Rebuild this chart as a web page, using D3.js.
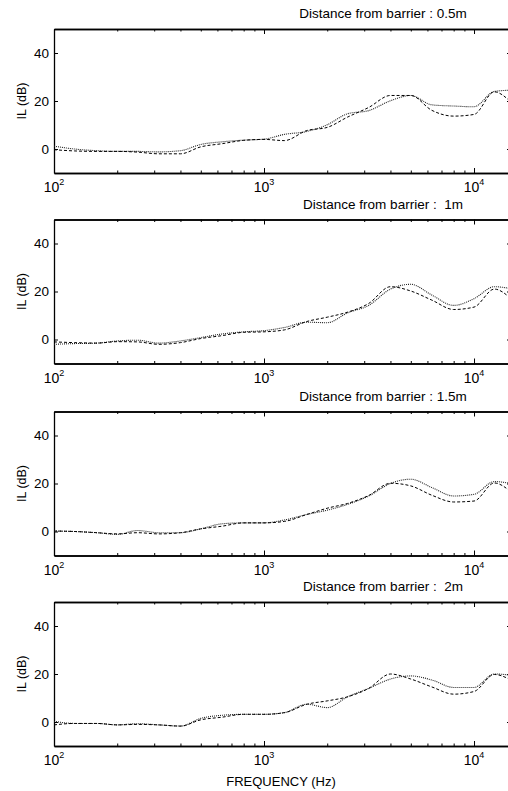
<!DOCTYPE html>
<html><head><meta charset="utf-8">
<script src="https://cdn.jsdelivr.net/npm/d3@7"></script>
<style>
html,body{margin:0;padding:0;background:#fff;}
svg{display:block;}
text{font-family:"Liberation Sans",Arial,sans-serif;fill:#000;}
</style></head>
<body>
<svg id="chart" width="508" height="791"></svg>
<script>
// ---- data ----
const freq = [100,125,160,200,250,315,400,500,630,800,1000,1250,1600,2000,2500,3150,4000,5000,6300,8000,10000,12500,15000];
const titles = ["Distance from barrier : 0.5m","Distance from barrier :  1m","Distance from barrier : 1.5m","Distance from barrier :  2m"];
const dotted05 = [1.2,0,-0.7,-1,-1,-1.2,-0.7,1.9,3,3.7,4.1,6.1,7.3,10.1,14.7,16,20.1,22.3,18.4,17.9,17.6,24,24.5];
const dashed05 = [-0.3,-0.8,-1,-1,-1.3,-2,-2,0.9,2.2,3.6,4,3.5,7.7,9,13.3,17.3,22.3,22.3,16.1,13.7,14.4,23.8,19.5];
const dotted1  = [-2,-1.7,-1.5,-0.6,-0.3,-1.5,-0.6,0.8,2.3,3.2,3.7,5,7.2,7,11.1,14.2,21,23,18.5,14.2,17,22,21.2];
const dashed1  = [-1,-1.3,-1.5,-0.9,-1,-2,-1.3,0.4,1.6,3,3.2,4,7.5,9.3,11.4,15,22,20.2,16.4,12.5,13.5,21,17];
const dotted15 = [0.2,0,-0.5,-1.2,0.4,-0.5,-0.5,1.1,3.2,3.6,3.6,4.8,7.1,8.9,11.3,14.8,20,21.8,18.3,14.8,15.5,20.8,20];
const dashed15 = [0.2,0,-0.5,-1,-0.5,-1,-0.5,1.1,2.2,3.6,3.6,4.2,7.1,9.7,11.7,15,20.1,19,15.1,12.3,12.7,20.2,16.5];
const dotted2  = [0.3,-0.6,-0.6,-1.2,-0.7,-1.2,-1.7,1.5,2.8,3.2,3.2,3.9,7.4,6,10.5,14,17.9,19.2,17.5,14.4,14.4,20,19.5];
const dashed2  = [-1.2,-0.6,-0.6,-1.2,-1,-1.2,-1.7,0.9,2,3.2,3.2,3.9,7.4,8.8,10.5,14,20,17.9,14.6,11.6,12.7,19.8,17.5];
const majorTicks = [100,1000,10000];
const exponents = ["2","3","4"];
const yTicks = [0,20,40];
const yTickLabels = ["0","20","40"];
const xLabel = "FREQUENCY (Hz)";
const yLabel = "IL (dB)";

const panels = [
  {title:titles[0], a:dotted05, b:dashed05},
  {title:titles[1], a:dotted1,  b:dashed1},
  {title:titles[2], a:dotted15, b:dashed15},
  {title:titles[3], a:dotted2,  b:dashed2}
];

// ---- layout ----
const svg = d3.select("#chart");
const left = 54, right = 511, ph = 144;
const tops = [29, 219.5, 411.5, 602];

const x = d3.scaleLog().domain([100,15000]).range([left,right]);
const minorTicks = [];
[100,1000,10000].forEach(d=>{for(let k=2;k<=9;k++){ if(d*k<=15000) minorTicks.push(d*k);} });

panels.forEach((p,i)=>{
  const top = tops[i], bottom = top+ph;
  const y = d3.scaleLinear().domain([-10,50]).range([bottom,top]);
  const g = svg.append("g");

  const clipId = "clip"+i;
  svg.append("clipPath").attr("id",clipId).append("rect")
    .attr("x",left).attr("y",top).attr("width",right-left).attr("height",ph);

  const axStyle = sel=>{
    sel.select(".domain").attr("stroke","#000").attr("stroke-width",1.3);
    sel.selectAll(".tick line").attr("stroke","#000").attr("stroke-width",1);
  };
  g.append("g").attr("transform",`translate(0,${bottom})`)
    .call(d3.axisBottom(x).tickValues(majorTicks).tickSizeInner(-5).tickSizeOuter(0).tickFormat(""))
    .call(axStyle);
  g.append("g").attr("transform",`translate(0,${bottom})`)
    .call(d3.axisBottom(x).tickValues(minorTicks).tickSizeInner(-2.5).tickSizeOuter(0).tickFormat(""))
    .call(axStyle);
  g.append("g").attr("transform",`translate(0,${top})`)
    .call(d3.axisTop(x).tickValues(majorTicks).tickSizeInner(-5).tickSizeOuter(0).tickFormat(""))
    .call(axStyle);
  g.append("g").attr("transform",`translate(0,${top})`)
    .call(d3.axisTop(x).tickValues(minorTicks).tickSizeInner(-2.5).tickSizeOuter(0).tickFormat(""))
    .call(axStyle);
  const ly = g.append("g").attr("transform",`translate(${left},0)`)
    .call(d3.axisLeft(y).tickValues(yTicks).tickSizeInner(-4).tickSizeOuter(0).tickPadding(5)
      .tickFormat((d,j)=>yTickLabels[j]))
    .call(axStyle);
  ly.selectAll(".tick text").attr("font-size",13.5).attr("font-family","Liberation Sans, Arial, sans-serif").attr("fill","#000");
  g.append("g").attr("transform",`translate(${right},0)`)
    .call(d3.axisRight(y).tickValues(yTicks).tickSizeInner(-4).tickSizeOuter(0).tickFormat(""))
    .call(axStyle);

  const xl = g.append("g");
  majorTicks.forEach((d,j)=>{
    const t = xl.append("text").attr("x",x(d)).attr("y",bottom+19)
      .attr("text-anchor","middle").attr("font-size",14);
    t.append("tspan").text("10");
    t.append("tspan").attr("font-size",9).attr("dy",-7).text(exponents[j]);
  });

  g.append("text").attr("transform",`translate(26,${(top+bottom)/2}) rotate(-90)`)
    .attr("text-anchor","middle").attr("font-size",12.5).text(yLabel);

  g.append("text").attr("x",383).attr("y",top-11).attr("text-anchor","middle")
    .attr("font-size",13.5).style("white-space","pre").text(p.title);

  const line = d3.line().x((d,k)=>x(freq[k])).y(d=>y(d)).curve(d3.curveMonotoneX);
  const lg = g.append("g").attr("clip-path",`url(#${clipId})`);
  lg.append("path").datum(p.a).attr("d",line).attr("fill","none")
    .attr("stroke","#222").attr("stroke-width",1.1).attr("stroke-dasharray","1,1");
  lg.append("path").datum(p.b).attr("d",line).attr("fill","none")
    .attr("stroke","#000").attr("stroke-width",1).attr("stroke-dasharray","3,2");
});

svg.append("text").attr("x",281).attr("y",786).attr("text-anchor","middle")
  .attr("font-size",13).text(xLabel);
</script>
</body></html>
